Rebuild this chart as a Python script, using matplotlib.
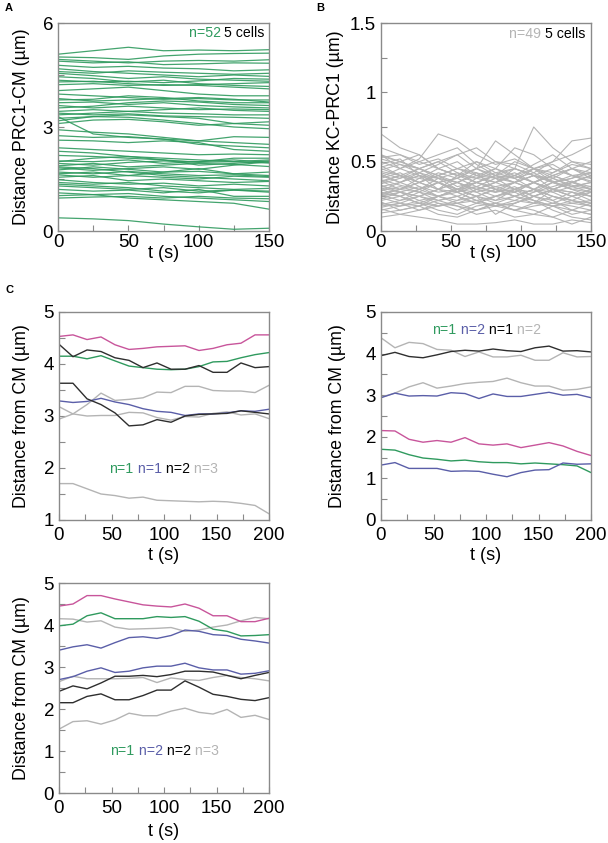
import numpy as np
import matplotlib
matplotlib.use("Agg")
from matplotlib import pyplot as plt
import matplotlib.ticker as ticker

plt.rcParams['font.family'] = ['Liberation Sans', 'DejaVu Sans']

# ---------------- data ----------------
# panel A: PRC1-CM distance, 52 tracks, sampled at t_a
t_a = [0, 25, 50, 75, 100, 125, 150]
prc1_cm = [
    [5.10, 5.20, 5.30, 5.20, 5.22, 5.20, 5.23],
    [5.02, 5.00, 4.95, 5.05, 5.10, 5.12, 5.13],
    [4.95, 4.90, 4.85, 4.90, 4.92, 4.90, 4.94],
    [4.90, 4.85, 4.88, 4.80, 4.82, 4.85, 4.84],
    [4.78, 4.72, 4.75, 4.70, 4.68, 4.62, 4.65],
    [4.68, 4.60, 4.55, 4.50, 4.45, 4.50, 4.46],
    [4.55, 4.48, 4.40, 4.45, 4.38, 4.35, 4.32],
    [4.45, 4.40, 4.30, 4.35, 4.25, 4.20, 4.17],
    [4.35, 4.30, 4.32, 4.28, 4.33, 4.40, 4.38],
    [4.22, 4.25, 4.20, 4.22, 4.20, 4.15, 4.10],
    [4.05, 4.10, 4.15, 4.05, 3.95, 3.90, 3.90],
    [3.95, 3.90, 3.85, 3.80, 3.82, 3.78, 3.78],
    [3.78, 3.80, 3.90, 3.85, 3.75, 3.70, 3.70],
    [3.70, 3.72, 3.65, 3.70, 3.62, 3.58, 3.55],
    [3.62, 3.55, 3.60, 3.55, 3.50, 3.52, 3.50],
    [3.55, 3.60, 3.70, 3.75, 3.72, 3.65, 3.62],
    [3.45, 3.50, 3.45, 3.40, 3.38, 3.35, 3.35],
    [3.35, 3.40, 3.45, 3.50, 3.55, 3.48, 3.45],
    [3.25, 3.30, 3.35, 3.30, 3.25, 3.10, 3.05],
    [3.18, 3.30, 3.28, 3.20, 3.10, 3.00, 2.95],
    [3.10, 3.20, 3.22, 3.15, 3.05, 3.10, 3.15],
    [3.30, 2.80, 2.70, 2.65, 2.60, 2.72, 2.70],
    [2.92, 2.85, 2.80, 2.70, 2.60, 2.55, 2.50],
    [2.75, 2.70, 2.72, 2.65, 2.50, 2.45, 2.40],
    [2.62, 2.60, 2.55, 2.60, 2.55, 2.35, 2.30],
    [2.40, 2.35, 2.30, 2.25, 2.20, 2.22, 2.20],
    [2.30, 2.25, 2.15, 2.10, 2.05, 2.00, 2.05],
    [2.18, 2.15, 2.10, 2.05, 1.98, 2.00, 1.96],
    [2.02, 2.00, 2.05, 1.95, 2.00, 2.05, 1.98],
    [1.95, 1.90, 1.98, 2.02, 2.00, 2.10, 2.10],
    [1.88, 1.95, 1.85, 1.90, 1.95, 1.92, 1.86],
    [1.82, 1.75, 1.80, 1.85, 1.78, 1.90, 2.00],
    [1.76, 1.85, 1.78, 1.70, 1.72, 1.65, 1.60],
    [1.70, 1.65, 1.72, 1.65, 1.60, 1.62, 1.57],
    [1.62, 1.55, 1.60, 1.70, 1.80, 1.65, 1.70],
    [1.55, 1.60, 1.45, 1.50, 1.45, 1.40, 1.43],
    [1.48, 1.40, 1.35, 1.38, 1.30, 1.35, 1.30],
    [1.40, 1.35, 1.40, 1.30, 1.25, 1.20, 1.23],
    [1.30, 1.25, 1.20, 1.25, 1.15, 1.18, 1.15],
    [1.20, 1.15, 1.18, 1.10, 1.20, 1.00, 1.00],
    [1.10, 1.05, 1.08, 1.00, 0.95, 0.90, 0.85],
    [1.02, 1.05, 0.95, 0.90, 0.85, 0.80, 0.63],
    [0.95, 0.98, 1.00, 0.95, 1.00, 0.95, 0.93],
    [0.38, 0.35, 0.30, 0.20, 0.12, 0.05, 0.08],
    [1.85, 1.80, 1.70, 1.60, 1.55, 1.50, 1.45],
    [4.60, 4.55, 4.62, 4.58, 4.55, 4.52, 4.55],
    [3.82, 3.75, 3.78, 3.82, 3.85, 3.80, 3.72],
    [3.40, 3.35, 3.38, 3.32, 3.30, 3.28, 3.25],
    [2.00, 2.10, 2.15, 2.05, 1.90, 1.95, 2.02],
    [1.65, 1.70, 1.60, 1.55, 1.50, 1.58, 1.55],
    [1.35, 1.30, 1.25, 1.15, 1.10, 1.18, 1.12],
    [4.30, 4.32, 4.25, 4.20, 4.22, 4.25, 4.28],
]

# panel B: KC-PRC1 distance, 49 tracks
t_b = [0, 13.6, 27.3, 40.9, 54.5, 68.2, 81.8, 95.5, 109.1, 122.7, 136.4, 150]
kc_prc1 = [
    [.70, .60, .55, .45, .50, .40, .35, .45, .40, .30, .35, .40],
    [.55, .50, .45, .40, .45, .50, .42, .38, .45, .48, .40, .42],
    [.53, .55, .48, .52, .45, .40, .38, .35, .40, .36, .30, .32],
    [.50, .45, .52, .70, .65, .55, .48, .52, .45, .42, .48, .45],
    [.48, .52, .40, .38, .35, .42, .30, .28, .35, .30, .25, .28],
    [.45, .40, .35, .42, .38, .45, .65, .55, .45, .35, .30, .25],
    [.42, .38, .45, .40, .32, .35, .40, .45, .75, .60, .50, .45],
    [.40, .35, .30, .38, .42, .35, .30, .25, .30, .38, .45, .40],
    [.38, .42, .35, .30, .35, .28, .32, .35, .30, .25, .22, .28],
    [.36, .30, .38, .45, .40, .50, .45, .40, .35, .40, .35, .30],
    [.35, .40, .32, .28, .30, .38, .45, .60, .55, .45, .40, .38],
    [.33, .28, .25, .30, .35, .30, .25, .22, .28, .32, .36, .30],
    [.32, .35, .40, .35, .30, .25, .30, .35, .40, .45, .40, .35],
    [.30, .25, .30, .35, .28, .32, .38, .30, .25, .20, .25, .30],
    [.29, .32, .28, .25, .30, .35, .32, .28, .35, .40, .45, .50],
    [.28, .25, .20, .25, .30, .28, .22, .25, .30, .28, .32, .35],
    [.27, .30, .35, .30, .40, .38, .35, .30, .28, .35, .30, .28],
    [.26, .22, .25, .30, .28, .22, .25, .30, .35, .30, .25, .20],
    [.25, .28, .32, .25, .22, .30, .35, .40, .35, .30, .35, .40],
    [.24, .20, .18, .22, .25, .20, .18, .22, .20, .25, .22, .18],
    [.22, .25, .20, .18, .22, .25, .30, .25, .20, .18, .15, .20],
    [.20, .18, .22, .25, .20, .15, .18, .20, .25, .30, .28, .22],
    [.18, .20, .15, .18, .20, .22, .18, .15, .18, .20, .18, .15],
    [.15, .18, .20, .15, .12, .18, .20, .15, .12, .10, .15, .12],
    [.10, .12, .10, .08, .05, .05, .06, .08, .05, .05, .08, .06],
    [.55, .45, .50, .55, .60, .48, .40, .35, .45, .50, .55, .62],
    [.52, .48, .42, .35, .38, .45, .50, .48, .42, .35, .38, .45],
    [.47, .40, .38, .35, .30, .32, .28, .30, .35, .42, .50, .48],
    [.44, .48, .45, .50, .55, .45, .40, .38, .42, .50, .65, .67],
    [.41, .35, .42, .38, .30, .25, .22, .30, .35, .28, .22, .20],
    [.39, .45, .40, .35, .28, .22, .18, .20, .25, .30, .28, .25],
    [.37, .33, .30, .25, .28, .35, .30, .25, .22, .18, .12, .15],
    [.34, .38, .42, .48, .55, .60, .50, .45, .40, .35, .38, .42],
    [.31, .28, .22, .18, .20, .25, .12, .20, .25, .30, .35, .32],
    [.29, .35, .40, .30, .25, .20, .25, .30, .22, .15, .10, .08],
    [.27, .25, .30, .35, .38, .32, .28, .35, .40, .38, .32, .28],
    [.23, .28, .25, .20, .15, .20, .25, .28, .22, .18, .20, .22],
    [.21, .15, .18, .25, .30, .35, .40, .35, .30, .25, .20, .18],
    [.19, .22, .28, .35, .30, .25, .20, .15, .20, .30, .25, .30],
    [.17, .20, .25, .22, .18, .15, .20, .25, .30, .22, .15, .12],
    [.13, .15, .18, .12, .10, .15, .20, .18, .15, .10, .05, .10],
    [.60, .55, .50, .45, .40, .45, .38, .42, .35, .40, .45, .38],
    [.54, .50, .45, .50, .42, .38, .42, .45, .40, .35, .32, .35],
    [.46, .50, .55, .45, .40, .35, .40, .50, .45, .40, .35, .40],
    [.43, .40, .35, .40, .45, .42, .38, .40, .48, .55, .45, .42],
    [.36, .40, .45, .38, .35, .40, .45, .38, .30, .35, .40, .36],
    [.32, .30, .35, .40, .35, .30, .35, .40, .45, .38, .33, .30],
    [.26, .30, .28, .22, .25, .30, .28, .32, .25, .22, .28, .25],
    [.16, .12, .15, .20, .18, .12, .15, .10, .12, .18, .22, .18],
]

# panel C: example cells, distance from CM
t_c = [0, 13.3, 26.7, 40, 53.3, 66.7, 80, 93.3, 106.7, 120, 133.3, 146.7, 160, 173.3, 186.7, 200]

c1_pink = [4.53, 4.56, 4.47, 4.52, 4.37, 4.28, 4.30, 4.33, 4.34, 4.35, 4.26, 4.30, 4.37, 4.40, 4.56, 4.56]
c1_green = [4.15, 4.15, 4.10, 4.16, 4.06, 3.96, 3.93, 3.90, 3.89, 3.90, 3.95, 4.04, 4.05, 4.12, 4.18, 4.22]
c1_blue = [3.29, 3.26, 3.28, 3.34, 3.27, 3.22, 3.14, 3.09, 3.07, 3.01, 3.04, 3.04, 3.06, 3.10, 3.09, 3.13]
c1_black = [[4.38, 4.14, 4.27, 4.24, 4.12, 4.07, 3.93, 4.02, 3.90, 3.90, 3.97, 3.84, 3.84, 4.02, 3.93, 3.95],
            [3.63, 3.63, 3.33, 3.22, 3.06, 2.81, 2.83, 2.93, 2.88, 3.00, 3.03, 3.04, 3.05, 3.10, 3.07, 3.04]]
c1_grey = [[2.94, 3.04, 3.22, 3.44, 3.30, 3.32, 3.35, 3.46, 3.45, 3.57, 3.57, 3.49, 3.48, 3.48, 3.45, 3.59],
           [3.18, 3.04, 3.00, 3.01, 3.01, 3.07, 3.06, 2.97, 2.92, 2.99, 2.98, 3.05, 3.08, 3.02, 3.04, 2.95],
           [1.70, 1.70, 1.60, 1.50, 1.47, 1.42, 1.44, 1.38, 1.37, 1.36, 1.35, 1.36, 1.35, 1.32, 1.28, 1.12]]

c2_pink = [2.15, 2.14, 1.94, 1.87, 1.91, 1.87, 1.98, 1.83, 1.80, 1.83, 1.74, 1.80, 1.86, 1.78, 1.65, 1.55]
c2_green = [1.70, 1.68, 1.57, 1.49, 1.46, 1.42, 1.44, 1.40, 1.38, 1.38, 1.35, 1.37, 1.35, 1.33, 1.30, 1.14]
c2_blue = [[2.94, 3.05, 2.98, 2.99, 2.98, 3.06, 3.04, 2.92, 3.03, 2.97, 2.97, 3.02, 3.07, 3.00, 3.02, 2.94],
           [1.32, 1.38, 1.24, 1.24, 1.24, 1.17, 1.18, 1.17, 1.10, 1.04, 1.14, 1.20, 1.21, 1.37, 1.34, 1.35]]
c2_black = [3.95, 4.03, 3.93, 3.90, 3.97, 4.05, 4.08, 4.06, 4.11, 4.07, 4.05, 4.14, 4.18, 4.06, 4.07, 4.04]
c2_grey = [[4.38, 4.14, 4.27, 4.24, 4.10, 4.08, 3.93, 4.04, 3.92, 3.92, 3.96, 3.84, 3.84, 4.02, 3.92, 3.93],
           [2.95, 3.05, 3.20, 3.30, 3.17, 3.22, 3.28, 3.31, 3.33, 3.41, 3.30, 3.22, 3.22, 3.12, 3.14, 3.20]]

c3_pink = [4.45, 4.50, 4.70, 4.70, 4.62, 4.55, 4.48, 4.45, 4.43, 4.50, 4.40, 4.22, 4.22, 4.08, 4.08, 4.16]
c3_green = [3.98, 4.02, 4.22, 4.29, 4.15, 4.15, 4.15, 4.20, 4.18, 4.20, 4.09, 3.90, 3.85, 3.74, 3.75, 3.77]
c3_blue = [[3.40, 3.48, 3.53, 3.45, 3.58, 3.70, 3.72, 3.68, 3.75, 3.88, 3.85, 3.77, 3.75, 3.66, 3.62, 3.57],
           [2.70, 2.77, 2.90, 2.98, 2.87, 2.90, 2.98, 3.02, 3.02, 3.09, 2.98, 2.93, 2.93, 2.83, 2.85, 2.91]]
c3_black = [[2.42, 2.55, 2.48, 2.62, 2.78, 2.78, 2.80, 2.77, 2.82, 2.90, 2.90, 2.88, 2.80, 2.72, 2.80, 2.87],
            [2.15, 2.15, 2.30, 2.36, 2.22, 2.22, 2.32, 2.45, 2.45, 2.67, 2.52, 2.35, 2.30, 2.23, 2.20, 2.27]]
c3_grey = [[4.15, 4.14, 4.07, 4.10, 3.95, 3.90, 3.91, 3.92, 3.94, 3.85, 3.88, 3.95, 4.00, 4.10, 4.18, 4.15],
           [2.65, 2.78, 2.72, 2.72, 2.72, 2.73, 2.75, 2.63, 2.74, 2.70, 2.68, 2.75, 2.80, 2.75, 2.72, 2.67],
           [1.52, 1.70, 1.72, 1.64, 1.74, 1.90, 1.84, 1.84, 1.95, 2.02, 1.92, 1.88, 1.99, 1.80, 1.85, 1.75]]

# colours
GREEN = '#2f9a5e'
BLUE = '#5a5ea8'
PINK = '#c8559b'
BLACK = '#2e2e2e'
GREY = '#b4b4b4'
SPINE = '#8a8a8a'

W, H = 608, 843
fig = plt.figure(figsize=(W / 100, H / 100), dpi=100)


def make_ax(x0, y0, x1, y1):
    # pixel box -> figure fractions
    return fig.add_axes([x0 / W, 1 - y1 / H, (x1 - x0) / W, (y1 - y0) / H])


def style(ax, xmax, ylim, ymaj, ymin, ylabel, ylab_px, xlab_px, xpad):
    ax.set_xlim(0, xmax)
    ax.set_ylim(*ylim)
    ax.xaxis.set_major_locator(ticker.MultipleLocator(50))
    ax.xaxis.set_minor_locator(ticker.MultipleLocator(25))
    ax.yaxis.set_major_locator(ticker.MultipleLocator(ymaj))
    ax.yaxis.set_minor_locator(ticker.MultipleLocator(ymin))
    ax.yaxis.set_major_formatter(ticker.FormatStrFormatter('%g'))
    for s in ax.spines.values():
        s.set_color(SPINE)
        s.set_linewidth(1.0)
    ax.tick_params(which='both', direction='in', length=4, width=0.8,
                   color=SPINE, labelsize=13.5, top=False, right=False)
    ax.tick_params(axis='x', pad=xpad)
    ax.tick_params(axis='y', pad=3.5)
    # axis labels placed by pixel offset from the spines
    bb = ax.get_position()
    wpx, hpx = bb.width * W, bb.height * H
    ax.set_xlabel('t (s)', fontsize=13, va='center')
    ax.xaxis.set_label_coords(0.5, -xlab_px / hpx)
    ax.set_ylabel(ylabel, fontsize=12.8, va='center')
    ax.yaxis.set_label_coords(-ylab_px / wpx, 0.5)


def words(ax, x, y, parts, right=False):
    # multi-coloured text on one baseline
    fs = 10.2
    if right:
        parts = parts[::-1]
        prev = ax.text(x, y, parts[0][0], color=parts[0][1], fontsize=fs,
                       ha='right', va='baseline')
        for txt, col in parts[1:]:
            prev = ax.annotate(txt + ' ', xy=(0, 0), xycoords=prev, color=col,
                               fontsize=fs, ha='right', va='bottom')
    else:
        prev = ax.text(x, y, parts[0][0], color=parts[0][1], fontsize=fs,
                       ha='left', va='baseline')
        for txt, col in parts[1:]:
            prev = ax.annotate(' ' + txt, xy=(1, 0), xycoords=prev, color=col,
                               fontsize=fs, ha='left', va='bottom')


# ---- A ----
axA = make_ax(58, 23, 269, 231)
for tr in prc1_cm:
    axA.plot(t_a, tr, color=GREEN, lw=0.9, alpha=0.9)
style(axA, 150, (0, 6), 3, 1.5, 'Distance PRC1-CM (µm)', 36, 23, 2)
words(axA, 147, 5.6, [('n=52', GREEN), ('5 cells', 'black')], right=True)

# ---- B ----
axB = make_ax(381, 23, 591, 231)
for tr in kc_prc1:
    axB.plot(t_b, tr, color=GREY, lw=0.8)
style(axB, 150, (0, 1.5), 0.5, 0.25, 'Distance KC-PRC1 (µm)', 45, 23, 2)
words(axB, 146, 1.39, [('n=49', GREY), ('5 cells', 'black')], right=True)

# ---- C1 ----
axC1 = make_ax(59, 312, 269, 520)
for tr in c1_grey:
    axC1.plot(t_c, tr, color=GREY, lw=1)
axC1.plot(t_c, c1_pink, color=PINK, lw=1)
axC1.plot(t_c, c1_green, color=GREEN, lw=1)
axC1.plot(t_c, c1_blue, color=BLUE, lw=1)
for tr in c1_black:
    axC1.plot(t_c, tr, color=BLACK, lw=1)
style(axC1, 200, (1, 5), 1, 0.5, 'Distance from CM (µm)', 37, 35, 5)
words(axC1, 48, 1.9, [('n=1', GREEN), ('n=1', BLUE), ('n=2', 'black'), ('n=3', GREY)])

# ---- C2 ----
axC2 = make_ax(381, 312, 591, 520)
for tr in c2_grey:
    axC2.plot(t_c, tr, color=GREY, lw=1)
axC2.plot(t_c, c2_pink, color=PINK, lw=1)
axC2.plot(t_c, c2_green, color=GREEN, lw=1)
for tr in c2_blue:
    axC2.plot(t_c, tr, color=BLUE, lw=1)
axC2.plot(t_c, c2_black, color=BLACK, lw=1)
style(axC2, 200, (0, 5), 1, 0.5, 'Distance from CM (µm)', 44, 35, 5)
words(axC2, 49, 4.48, [('n=1', GREEN), ('n=2', BLUE), ('n=1', 'black'), ('n=2', GREY)])

# ---- C3 ----
axC3 = make_ax(59, 583, 269, 793)
for tr in c3_grey:
    axC3.plot(t_c, tr, color=GREY, lw=1)
axC3.plot(t_c, c3_pink, color=PINK, lw=1)
axC3.plot(t_c, c3_green, color=GREEN, lw=1)
for tr in c3_blue:
    axC3.plot(t_c, tr, color=BLUE, lw=1)
for tr in c3_black:
    axC3.plot(t_c, tr, color=BLACK, lw=1)
style(axC3, 200, (0, 5), 1, 0.5, 'Distance from CM (µm)', 37, 38, 5)
words(axC3, 49, 0.9, [('n=1', GREEN), ('n=2', BLUE), ('n=2', 'black'), ('n=3', GREY)])

# panel letters
fig.text(5 / W, 1 - 8 / H, 'A', fontsize=8, weight='bold', va='center')
fig.text(316 / W, 1 - 8 / H, 'B', fontsize=8, weight='bold', va='center')
fig.text(5 / W, 1 - 290 / H, 'C', fontsize=8, weight='bold', va='center')

fig.savefig('out.png', dpi=100)
